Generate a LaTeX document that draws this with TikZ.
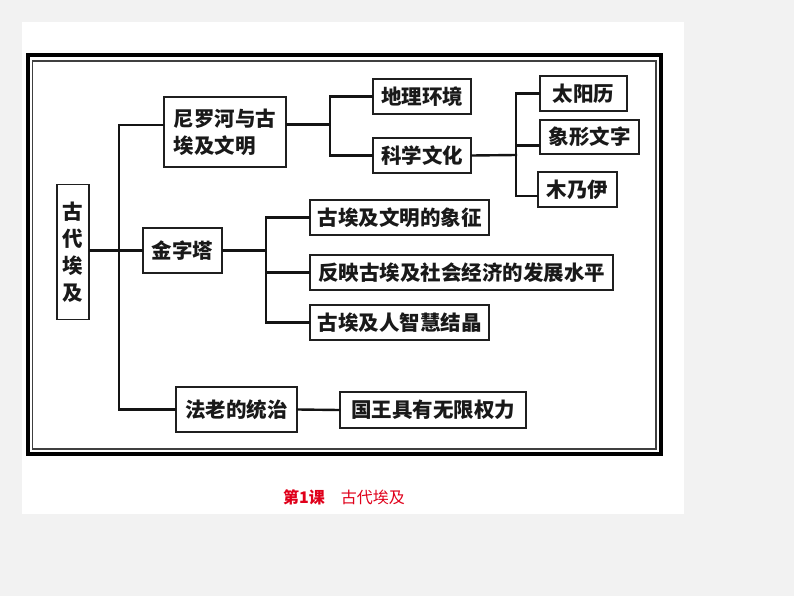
\documentclass[tikz,border=0pt]{standalone}
\usepackage{fontspec}
\setmainfont{Noto Sans CJK SC}
\definecolor{bggray}{HTML}{F2F2F2}
\definecolor{capred}{HTML}{E0001B}
\begin{document}
\begin{tikzpicture}[x=1pt,y=-1pt,
  box/.style={draw=black!88, line width=1.8pt, fill=white, inner sep=0pt,
    font=\fontsize{20.5}{27}\selectfont\bfseries, text=black!90},
  conn/.style={line width=2.4pt, black!92, line cap=rect}]
\useasboundingbox (0,0) rectangle (794,596);
\fill[bggray] (0,0) rectangle (794,596);
\fill[white] (22,22) rectangle (684,514);
% frame
\draw[line width=4pt, black] (27.5,55) rectangle (660.5,454);
\draw[line width=1.3pt, black!75] (32.5,61) rectangle (656,449);
% boxes
\node[box, minimum width=32pt, minimum height=135pt, align=center] (gudai) at (73,252) {古\\代\\埃\\及};
\node[box, minimum width=122pt, minimum height=70pt, align=left] (niluo) at (225,132) {尼罗河与古\\埃及文明};
\node[box, minimum width=79pt, minimum height=45pt] (jinzi) at (182.5,250.5) {金字塔};
\node[box, minimum width=121pt, minimum height=45pt] (falao) at (236.5,409.5) {法老的统治};
\node[box, minimum width=98pt, minimum height=35pt] (dili) at (422,96.5) {地理环境};
\node[box, minimum width=98pt, minimum height=35pt] (kexue) at (422,155.5) {科学文化};
\node[box, minimum width=87pt, minimum height=35pt] (taiyang) at (583.5,93.5) {太阳历};
\node[box, minimum width=99pt, minimum height=34pt] (xiangxing) at (589.5,137) {象形文字};
\node[box, minimum width=79pt, minimum height=35pt] (munai) at (577.5,189.5) {木乃伊};
\node[box, minimum width=179pt, minimum height=35pt] (xiangzheng) at (399.5,217.5) {古埃及文明的象征};
\node[box, minimum width=303pt, minimum height=35pt] (fanying) at (461.5,272.5) {反映古埃及社会经济的发展水平};
\node[box, minimum width=179pt, minimum height=35pt] (zhihui) at (399.5,322.5) {古埃及人智慧结晶};
\node[box, minimum width=186pt, minimum height=36pt] (guowang) at (433,410) {国王具有无限权力};
% coordinates
\coordinate (t1) at (119,125);
\coordinate (t3) at (119,409.5);
\coordinate (n1) at (330,124.5);
\coordinate (k1) at (516,155);
\coordinate (kx) at (516,145.7);
\coordinate (km) at (516,195.7);
\coordinate (j1) at (266,250.5);
% connectors
\draw[conn] (niluo.west|-t1) -- (t1) -- (t3) -- (falao.west);
\draw[conn] (gudai.east|-jinzi.west) -- (jinzi.west);
\draw[conn] (niluo.east|-n1) -- (n1);
\draw[conn] (dili.west) -| (n1) |- (kexue.west);
\draw[conn] (kexue.east) -- (k1);
\draw[conn] (taiyang.west) -| (km) -- (munai.west|-km);
\draw[conn] (kx) -- (xiangxing.west|-kx);
\draw[conn] (jinzi.east) -- (j1);
\draw[conn] (xiangzheng.west) -| (j1) |- (zhihui.west);
\draw[conn] (j1|-fanying.west) -- (fanying.west);
\draw[conn] (falao.east) -- (guowang.west);
% caption
\node[anchor=west, inner sep=0pt, text=capred, font=\fontsize{16}{16}\selectfont] (cap) at (283,497) {\textbf{第1课}\hspace{16pt}古代埃及};
\end{tikzpicture}
\end{document}
